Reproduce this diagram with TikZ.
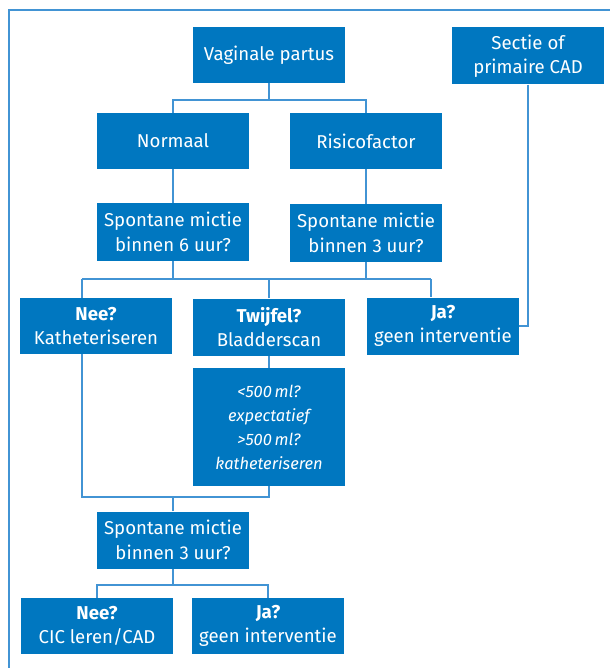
\documentclass[tikz,border=0pt]{standalone}
\usepackage{fontspec}
\setmainfont{Fira Sans}
\usetikzlibrary{backgrounds}
\definecolor{boxblue}{RGB}{0,119,192}
\definecolor{lineblue}{RGB}{66,148,212}
\tikzset{
  box/.style={fill=boxblue, text=white, minimum width=152pt, minimum height=56pt,
    inner sep=0pt, align=center, font=\fontsize{18.6}{24.5}\selectfont},
  conn/.style={draw=lineblue, line width=1.3pt},
}
\begin{document}
\begin{tikzpicture}[x=1pt,y=-1pt]
  \useasboundingbox (0,0) rectangle (610,668);
  \draw[draw=lineblue, line width=1.6pt] (9,668) -- (9,10) -- (610,10); % frame

  \node[box] (vag) at (269,55) {Vaginale partus};
  \node[box, minimum height=57pt] (sec) at (528,56) {Sectie of\\primaire CAD};
  \node[box] (norm) at (173,141) {Normaal};
  \node[box] (risk) at (366,141) {Risicofactor};
  \node[box, minimum height=57pt] (sp6) at (173,232) {Spontane mictie\\binnen 6 uur?};
  \node[box, minimum height=57pt] (sp3) at (366,233) {Spontane mictie\\binnen 3 uur?};
  \node[box] (nee) at (96,326) {\textbf{Nee?}\\Katheteriseren};
  \node[box, minimum height=57pt] (twij) at (269,327) {\textbf{Twijfel?}\\Bladderscan};
  \node[box, minimum height=57pt] (ja) at (443,326) {\textbf{Ja?}\\geen interventie};
  \node[box, minimum height=118pt, font=\itshape\fontsize{16.5}{24}\selectfont] (scan) at (269,427)
    {<500\,ml?\\expectatief\\>500\,ml?\\katheteriseren};
  \node[box, minimum height=57pt] (sp3b) at (173,540) {Spontane mictie\\binnen 3 uur?};
  \node[box] (nee2) at (97,626) {\textbf{Nee?}\\CIC leren/CAD};
  \node[box] (ja2) at (268,626) {\textbf{Ja?}\\geen interventie};

  \coordinate (b1) at (269,100);
  \coordinate (nl) at (82,279);
  \coordinate (nr) at (431,279);
  \coordinate (nb) at (82,497);
  \coordinate (b4) at (173,585);

  \begin{scope}[on background layer]
    \draw[conn] (vag.south) -- (b1);
    \draw[conn] (norm.north) |- (b1) -| (risk.north);
    \draw[conn] (norm.south) -- (sp6.north);
    \draw[conn] (risk.south) -- (sp3.north);
    \draw[conn] (sec.south) |- (ja.east);
    \draw[conn] (nl) -- (nr);
    \draw[conn] (sp6.south) -- (sp6.south |- nl);
    \draw[conn] (sp3.south) -- (sp3.south |- nl);
    \draw[conn] (twij.north) -- (twij.north |- nl);
    \draw[conn] (nr) -- (nr |- ja.north);
    \draw[conn] (twij.south) -- (scan.north);
    \draw[conn] (nl) -- (nb) -| (scan.south);
    \draw[conn] (sp3b.north) -- (sp3b.north |- nb);
    \draw[conn] (sp3b.south) -- (b4);
    \draw[conn] (nee2.north) |- (b4) -| (ja2.north);
  \end{scope}
\end{tikzpicture}
\end{document}
